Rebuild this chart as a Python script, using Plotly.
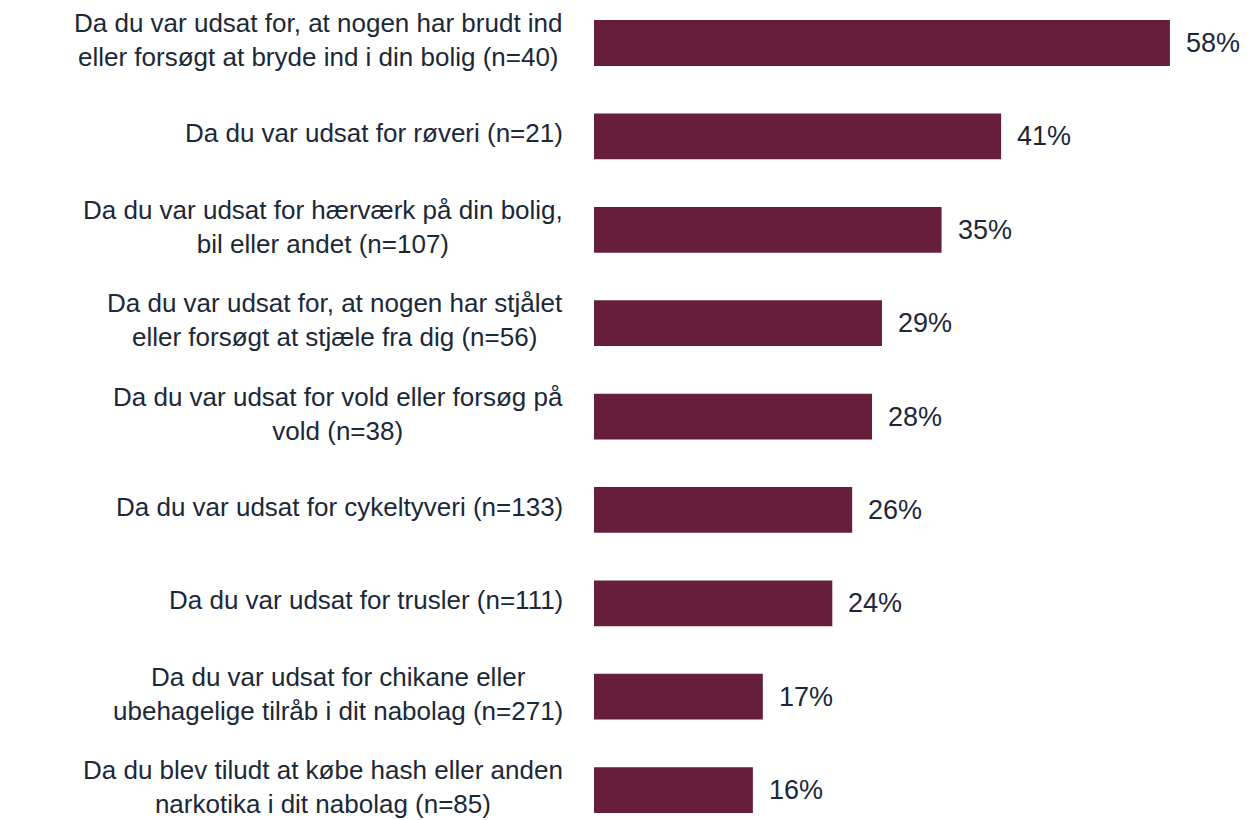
import plotly.graph_objects as go

categories = [
    "Da du var udsat for, at nogen har brudt ind<br>eller forsøgt at bryde ind i din bolig (n=40)",
    "Da du var udsat for røveri (n=21)",
    "Da du var udsat for hærværk på din bolig,<br>bil eller andet (n=107)",
    "Da du var udsat for, at nogen har stjålet<br>eller forsøgt at stjæle fra dig (n=56)",
    "Da du var udsat for vold eller forsøg på<br>vold (n=38)",
    "Da du var udsat for cykeltyveri (n=133)",
    "Da du var udsat for trusler (n=111)",
    "Da du var udsat for chikane eller<br>ubehagelige tilråb i dit nabolag (n=271)",
    "Da du blev tiludt at købe hash eller anden<br>narkotika i dit nabolag (n=85)",
]
values = [58, 41, 35, 29, 28, 26, 24, 17, 16]
value_labels = ["58%", "41%", "35%", "29%", "28%", "26%", "24%", "17%", "16%"]

BAR = "#661E3C"
TEXT = "#1B2838"
FONT = "Liberation Sans, Arial, sans-serif"

# page body has an 8px margin, so the figure is offset by 8px
W, H = 1247, 812
L = 586
plot_w = W - L
px_per = 9.93
xmax = plot_w / px_per

ypos = list(range(len(categories)))

fig = go.Figure(go.Bar(
    x=values, y=ypos, orientation="h",
    marker=dict(color=BAR, line=dict(width=0)),
    width=0.49, hoverinfo="skip",
))

annotations = []
label_x = (557 - L) / plot_w
for i, (c, v, t) in enumerate(zip(categories, values, value_labels)):
    annotations.append(dict(
        x=label_x, xref="paper", y=i, yref="y", text=c, showarrow=False,
        xanchor="right", yanchor="middle", align="center", yshift=3,
        font=dict(family=FONT, size=26, color=TEXT),
    ))
    annotations.append(dict(
        x=v, xref="x", y=i, yref="y", text=t, showarrow=False,
        xanchor="left", yanchor="middle", xshift=14,
        font=dict(family=FONT, size=27, color=TEXT),
    ))

fig.update_layout(
    width=W, height=H,
    margin=dict(l=L, r=0, t=0, b=0),
    paper_bgcolor="white", plot_bgcolor="white",
    showlegend=False,
    xaxis=dict(range=[0, xmax], visible=False, fixedrange=True),
    yaxis=dict(range=[8.321, -0.3748], visible=False, fixedrange=True),
    annotations=annotations,
)

fig.write_html("out.html")
